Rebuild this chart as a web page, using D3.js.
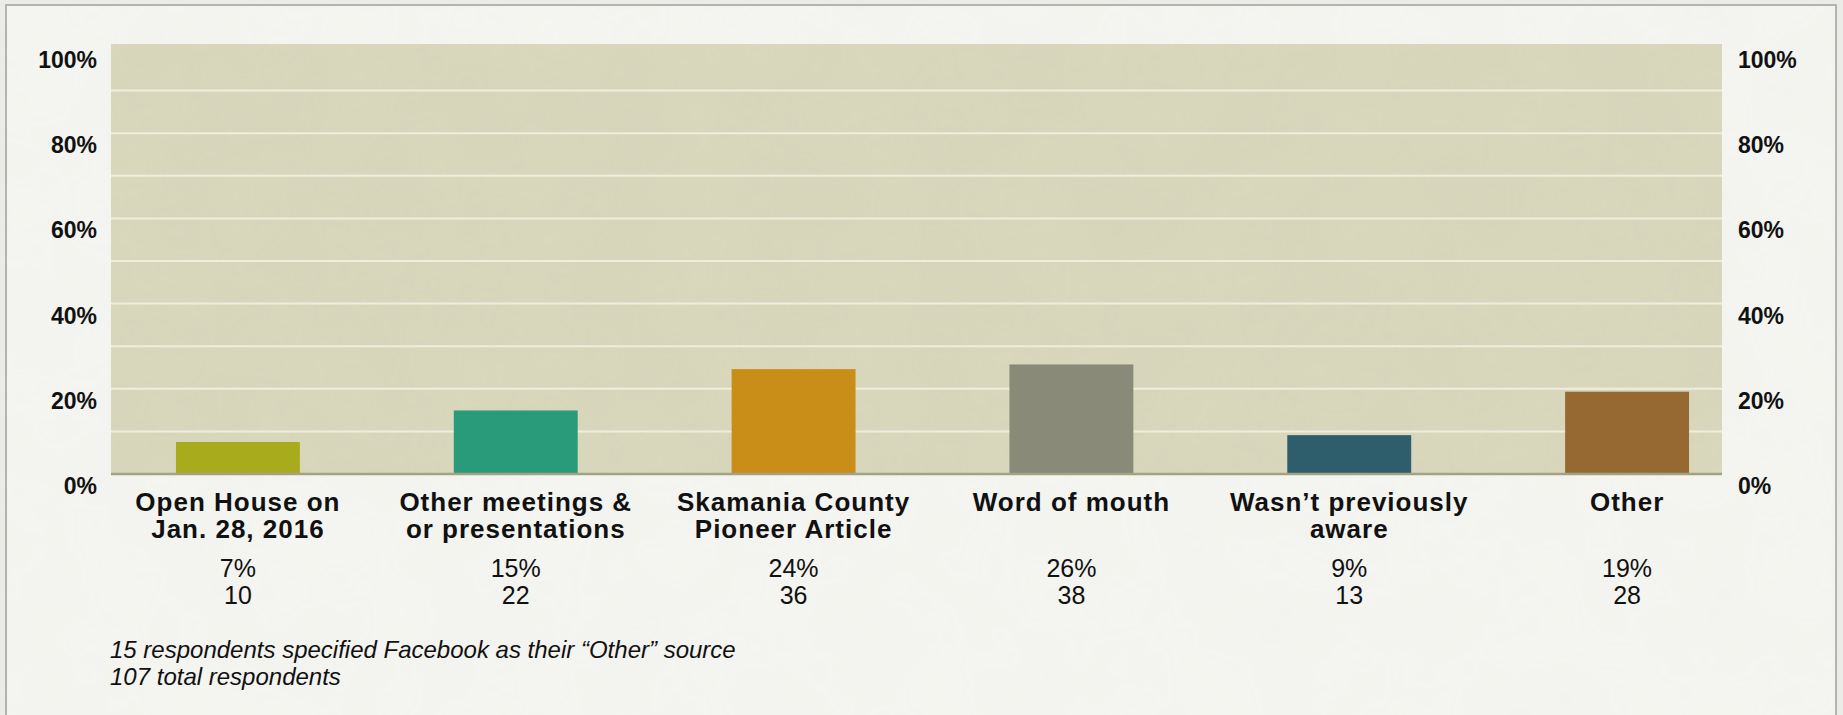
<!DOCTYPE html>
<html>
<head>
<meta charset="utf-8">
<script src="https://cdn.jsdelivr.net/npm/d3@7"></script>
<style>
  body { margin: 0; background: #ebebe7; }
  text { font-family: "Liberation Sans", Arial, Helvetica, sans-serif; fill: #111; }
</style>
</head>
<body>
<svg id="chart"></svg>
<script>
"use strict";

// data
const categories = [
  ["Open House on", "Jan. 28, 2016"],
  ["Other meetings &", "or presentations"],
  ["Skamania County", "Pioneer Article"],
  ["Word of mouth"],
  ["Wasn\u2019t previously", "aware"],
  ["Other"]
];
const barValues = [7.4, 14.8, 24.5, 25.6, 9.0, 19.2];
const pctLabels = ["7%", "15%", "24%", "26%", "9%", "19%"];
const counts = [10, 22, 36, 38, 13, 28];
const colors = ["#a8ac1c", "#2a9b7a", "#c98e18", "#8a8a78", "#2e5e6c", "#966832"];
const axisTicks = [0, 20, 40, 60, 80, 100];
const gridTicks = [10, 20, 30, 40, 50, 60, 70, 80, 90];
const notes = [
  "15 respondents specified Facebook as their \u201cOther\u201d source",
  "107 total respondents"
];

const W = 1843, H = 715;
const PLOT_L = 111, PLOT_R = 1722, PLOT_T = 44, BASE = 473.5, TOP100 = 47.5;

const svg = d3.select("#chart").attr("width", W).attr("height", H);

// light texture for the paper look
const defs = svg.append("defs");
const f = defs.append("filter").attr("id", "grain").attr("x", 0).attr("y", 0).attr("width", "100%").attr("height", "100%");
f.append("feTurbulence").attr("type", "fractalNoise").attr("baseFrequency", 0.012).attr("numOctaves", 3).attr("seed", 4);
f.append("feColorMatrix").attr("values", "0 0 0 0 0.5  0 0 0 0 0.5  0 0 0 0 0.45  0 0 0 0.09 0");
f.append("feComposite").attr("in2", "SourceGraphic").attr("operator", "in");

// frame
svg.append("rect")
  .attr("x", 6).attr("y", 5).attr("width", 1830).attr("height", H + 20)
  .attr("fill", "#f5f5f1").attr("stroke", "#b3b3b0").attr("stroke-width", 2);
svg.append("rect")
  .attr("x", 7).attr("y", 6).attr("width", 1828).attr("height", H + 20)
  .attr("fill", "#f5f5f1").attr("filter", "url(#grain)").attr("opacity", 0.5);

const x = d3.scaleBand()
  .domain(d3.range(categories.length))
  .range([99, 1766])
  .paddingInner(0.554)
  .paddingOuter(0.277);

const y = d3.scaleLinear()
  .domain([0, 100])
  .range([BASE, TOP100]);

// plot background
svg.append("rect")
  .attr("x", PLOT_L).attr("y", PLOT_T)
  .attr("width", PLOT_R - PLOT_L).attr("height", BASE - PLOT_T)
  .attr("fill", "#d9d8bc");
svg.append("rect")
  .attr("x", PLOT_L).attr("y", PLOT_T)
  .attr("width", PLOT_R - PLOT_L).attr("height", BASE - PLOT_T)
  .attr("fill", "#d9d8bc").attr("filter", "url(#grain)");

// gridlines
const grid = svg.append("g")
  .attr("transform", "translate(" + PLOT_L + ",0)")
  .call(d3.axisRight(y).tickValues(gridTicks).tickSize(PLOT_R - PLOT_L).tickFormat(""));
grid.select(".domain").remove();
grid.selectAll("line").attr("stroke", "#efeedd").attr("stroke-width", 2);

// bars
svg.append("g").selectAll("rect")
  .data(barValues)
  .enter()
  .append("rect")
  .attr("x", function(d, i) { return x(i); })
  .attr("y", function(d) { return y(d); })
  .attr("width", x.bandwidth())
  .attr("height", function(d) { return BASE - y(d); })
  .attr("fill", function(d, i) { return colors[i]; });

// baseline
svg.append("line")
  .attr("x1", PLOT_L).attr("x2", PLOT_R)
  .attr("y1", y(0) + 0.5).attr("y2", y(0) + 0.5)
  .attr("stroke", "#a2a284").attr("stroke-width", 2.5);

// left and right percent axes (labels sit a bit below their lines, as in the source)
function styleAxis(g) {
  g.select(".domain").remove();
  g.selectAll(".tick line").remove();
  g.selectAll("text")
    .attr("dy", "0.35em")
    .attr("y", 12)
    .style("font-size", "23px")
    .style("font-weight", "bold")
    .style("font-family", "'Liberation Sans', Arial, sans-serif")
    .attr("fill", "#111");
}
svg.append("g")
  .attr("transform", "translate(97,0)")
  .call(d3.axisLeft(y).tickValues(axisTicks).tickSize(0).tickPadding(0).tickFormat(function(d) { return d + "%"; }))
  .call(styleAxis);
svg.append("g")
  .attr("transform", "translate(1738,0)")
  .call(d3.axisRight(y).tickValues(axisTicks).tickSize(0).tickPadding(0).tickFormat(function(d) { return d + "%"; }))
  .call(styleAxis);

// category labels
const cat = svg.append("g").selectAll("text")
  .data(categories)
  .enter()
  .append("text")
  .attr("text-anchor", "middle")
  .attr("x", function(d, i) { return x(i) + x.bandwidth() / 2; })
  .attr("y", 510.5)
  .style("font-size", "26px")
  .style("letter-spacing", "1px")
  .style("font-weight", "bold");
cat.selectAll("tspan")
  .data(function(d) { return d; })
  .enter()
  .append("tspan")
  .attr("x", function() { return d3.select(this.parentNode).attr("x"); })
  .attr("dy", function(d, j) { return j === 0 ? 0 : 27; })
  .text(function(d) { return d; });

// percent and count under each category
svg.append("g").selectAll("text")
  .data(pctLabels)
  .enter()
  .append("text")
  .attr("text-anchor", "middle")
  .attr("x", function(d, i) { return x(i) + x.bandwidth() / 2; })
  .attr("y", 577)
  .style("font-size", "25px")
  .attr("fill", "#222")
  .text(function(d) { return d; });

svg.append("g").selectAll("text")
  .data(counts)
  .enter()
  .append("text")
  .attr("text-anchor", "middle")
  .attr("x", function(d, i) { return x(i) + x.bandwidth() / 2; })
  .attr("y", 604)
  .style("font-size", "25px")
  .attr("fill", "#222")
  .text(function(d) { return d; });

// footnotes
svg.append("g").selectAll("text")
  .data(notes)
  .enter()
  .append("text")
  .attr("x", 110)
  .attr("y", function(d, i) { return 658 + i * 26.5; })
  .style("font-size", "24px")
  .style("font-style", "italic")
  .attr("fill", "#222")
  .text(function(d) { return d; });
</script>
</body>
</html>
